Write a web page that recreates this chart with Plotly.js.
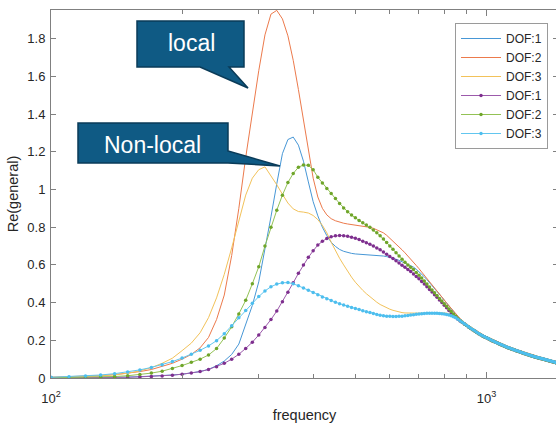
<!DOCTYPE html>
<html>
<head>
<meta charset="utf-8">
<script src="https://cdn.plot.ly/plotly-3.0.1.min.js"></script>
<style>html,body{margin:0;padding:0;overflow:hidden;background:#fff}#chart{width:558px;height:427px}</style>
</head>
<body>
<div id="chart"></div>
<script>
// Frequencies (Hz)
const freq = [100,110,120,130,140,150,160,170,180,190,200,210,220,230,240,250,260,270,280,290,300,310,320,330,340,350,360,370,380,390,400,
410,420,430,440,450,460,470,480,490,500,510,520,530,540,550,560,570,580,590,600,
610,620,630,640,650,660,670,680,690,700,710,720,730,740,750,760,770,780,790,800,
810,820,830,840,850,860,870,880,890,900,910,920,930,940,950,960,970,980,990,1000,
1010,1020,1030,1040,1050,1060,1070,1080,1090,1100,1110,1120,1130,1140,1150,1160,1170,1180,1190,1200,
1210,1220,1230,1240,1250,1260,1270,1280,1290,1300,1310,1320,1330,1340,1350,1360,1370,1380,1390,1400,1410,1420,1430,1440,1450];

// local model (lines)
const localDof1 = [.001,.001,.002,.003,.004,.005,.007,.009,.012,.016,.020,.026,.034,
.046,.065,.090,.125,.180,.280,.385,.510,.680,.855,1.030,1.190,1.265,1.278,1.235,1.150,1.040,.935,
.860,.800,.755,.720,.698,.682,.672,.665,.661,.658,.657,.656,.655,.654,.653,.652,.650,.647,.644,.640,
.635,.630,.624,.617,.612,.605,.597,.588,.577,.565,.551,.537,.522,.507,.492,.477,.461,.445,.429,.413,
.397,.381,.366,.351,.337,.323,.311,.300,.291,.283,.275,.267,.260,.253,.246,.239,.233,.227,.222,.217,
.212,.207,.202,.198,.193,.189,.185,.181,.177,.173,.169,.165,.162,.158,.155,.152,.149,.146,.143,.140,
.137,.134,.131,.129,.126,.124,.121,.119,.116,.114,.112,.110,.108,.106,.104,.102,.100,.098,.096,.094,.092,.090,.088,.086,.084];
const localDof2 = [.004,.006,.009,.013,.018,.025,.034,.045,.060,.078,.100,.125,.160,
.215,.310,.440,.650,.900,1.170,1.410,1.630,1.820,1.930,1.950,1.905,1.815,1.685,1.530,1.370,1.215,1.060,
.960,.900,.865,.845,.834,.826,.821,.817,.814,.811,.809,.806,.803,.799,.794,.787,.779,.770,.757,.742,
.727,.711,.695,.680,.664,.648,.632,.615,.597,.580,.563,.546,.529,.512,.495,.478,.462,.446,.430,.414,
.398,.383,.368,.354,.340,.327,.315,.304,.294,.286,.278,.270,.263,.256,.249,.242,.236,.230,.225,.220,
.215,.210,.205,.201,.196,.192,.188,.184,.180,.176,.172,.168,.165,.161,.158,.155,.152,.149,.146,.143,
.140,.137,.134,.132,.129,.127,.124,.122,.119,.117,.115,.113,.111,.109,.107,.105,.103,.101,.099,.097,.095,.093,.091,.089,.087];
const localDof3 = [.003,.005,.008,.012,.017,.025,.038,.055,.078,.105,.145,.185,.240,
.320,.425,.550,.690,.830,.970,1.060,1.105,1.120,1.075,1.025,.975,.928,.897,.883,.880,.875,.862,
.840,.810,.770,.720,.675,.635,.600,.565,.535,.508,.485,.465,.447,.430,.415,.402,.390,.380,.372,.365,
.359,.354,.350,.347,.345,.344,.343,.343,.343,.344,.344,.345,.345,.346,.346,.346,.346,.346,.346,.345,
.344,.341,.337,.332,.326,.318,.310,.302,.294,.286,.278,.270,.263,.256,.249,.242,.236,.230,.225,.220,
.215,.210,.205,.201,.196,.192,.188,.184,.180,.176,.172,.168,.165,.161,.158,.155,.152,.149,.146,.143,
.140,.137,.134,.132,.129,.127,.124,.122,.119,.117,.115,.113,.111,.109,.107,.105,.103,.101,.099,.097,.095,.093,.091,.089,.087];

// non-local model (lines + markers)
const nonlocalDof1 = [.001,.001,.002,.002,.003,.004,.006,.008,.011,.015,.020,.026,.034,
.045,.060,.078,.100,.126,.157,.190,.228,.268,.310,.355,.405,.455,.505,.555,.600,.640,.675,
.705,.725,.740,.749,.754,.756,.755,.752,.747,.741,.734,.726,.718,.709,.700,.690,.680,.668,.656,.645,
.634,.622,.610,.598,.587,.576,.565,.552,.539,.526,.512,.498,.484,.470,.456,.442,.428,.414,.400,.386,
.372,.358,.345,.333,.322,.312,.303,.295,.287,.279,.271,.263,.256,.249,.242,.235,.229,.223,.218,.213,
.208,.203,.198,.194,.189,.185,.181,.177,.173,.169,.165,.161,.158,.154,.151,.148,.145,.142,.139,.136,
.133,.130,.127,.125,.122,.120,.117,.115,.112,.110,.108,.106,.104,.102,.100,.098,.096,.094,.092,.090,.088,.086,.084,.082,.080];
const nonlocalDof2 = [.001,.002,.003,.005,.008,.012,.018,.026,.036,.050,.066,.083,.100,
.122,.156,.212,.272,.340,.412,.500,.590,.700,.800,.890,.970,1.037,1.085,1.118,1.130,1.128,1.105,
1.065,1.035,1.005,.978,.952,.926,.902,.882,.864,.850,.836,.823,.811,.799,.785,.770,.754,.737,.719,.700,
.683,.665,.647,.630,.614,.600,.588,.575,.560,.545,.530,.515,.499,.483,.467,.452,.437,.422,.408,.394,
.380,.366,.353,.340,.328,.316,.305,.296,.287,.279,.271,.263,.256,.249,.242,.235,.229,.223,.218,.213,
.208,.203,.198,.194,.189,.185,.181,.177,.173,.169,.165,.161,.158,.154,.151,.148,.145,.142,.139,.136,
.133,.130,.127,.125,.122,.120,.117,.115,.112,.110,.108,.106,.104,.102,.100,.098,.096,.094,.092,.090,.088,.086,.084,.082,.080];
const nonlocalDof3 = [.004,.007,.011,.016,.023,.032,.043,.056,.070,.087,.106,.126,.147,
.170,.198,.235,.277,.320,.358,.396,.432,.462,.484,.498,.505,.506,.500,.489,.477,.465,.453,
.441,.430,.420,.411,.402,.394,.387,.380,.374,.368,.363,.357,.352,.347,.342,.337,.333,.330,.328,.327,
.326,.326,.327,.328,.330,.332,.334,.336,.338,.340,.341,.342,.343,.343,.343,.343,.343,.342,.341,.339,
.337,.334,.330,.325,.319,.312,.304,.296,.288,.280,.272,.264,.257,.250,.243,.236,.230,.224,.219,.214,
.209,.204,.199,.195,.190,.186,.182,.178,.174,.170,.166,.162,.159,.155,.152,.149,.146,.143,.140,.137,
.134,.131,.128,.126,.123,.121,.118,.116,.113,.111,.109,.107,.105,.103,.101,.099,.097,.095,.093,.091,.089,.087,.085,.083,.081];

const seriesNames = ['DOF:1','DOF:2','DOF:3','DOF:1','DOF:2','DOF:3'];
const lineColors = ['#4797d6','#ec7a4c','#f2c25a','#9c5aab','#93c255','#62c6ef'];
const markerColors = [null, null, null, '#7E2F8E', '#6fa52a', '#4DBEEE'];
const xTickVals = [100, 1000];
const xTickText = ['10<sup>2</sup>', '10<sup>3</sup>'];
const xMinorVals = [200,300,400,500,600,700,800,900];
const yTickVals = [0,0.2,0.4,0.6,0.8,1,1.2,1.4,1.6,1.8];
const calloutTexts = ['local', 'Non-local'];

const allY = [localDof1, localDof2, localDof3, nonlocalDof1, nonlocalDof2, nonlocalDof3];
const traces = allY.map((y, i) => {
  const tr = {
    x: freq, y: y, name: seriesNames[i], type: 'scatter',
    mode: i >= 3 ? 'lines+markers' : 'lines',
    line: {color: lineColors[i], width: 1}
  };
  if (i >= 3) tr.marker = {color: markerColors[i], size: 3.5, symbol: 'circle'};
  return tr;
});

// geometry helpers for decorations (pixel -> paper)
const W = 558, H = 427, L = 51, T = 10, B = 49, R = 0;
const PW = W - L - R, PH = H - T - B;
const fx = px => (px - L) / PW;
const fy = py => (H - B - py) / PH;
const poly = pts => pts.map((p, k) => (k ? 'L' : 'M') + fx(p[0]).toFixed(5) + ',' + fy(p[1]).toFixed(5)).join(' ') + ' Z';

const localBox = [[137,21],[244,21],[244,67],[229,67],[248,88],[200,67],[137,67]];
const nonlocalBox = [[78,123],[228,123],[228,151],[280,166],[228,163],[78,163]];

const axisCol = '#808080';
const font = 'Arial, "Liberation Sans", sans-serif';
const layout = {
  width: W, height: H,
  margin: {l: L, r: R, t: T, b: B, pad: 0},
  paper_bgcolor: '#fff', plot_bgcolor: '#fff',
  font: {family: font, color: '#262626', size: 13},
  showlegend: true,
  legend: {
    x: fx(455), y: fy(23), xanchor: 'left', yanchor: 'top',
    bgcolor: '#fff', bordercolor: '#9a9a9a', borderwidth: 1,
    font: {family: font, size: 12, color: '#262626'},
    itemwidth: 40, tracegroupgap: 0
  },
  xaxis: {
    type: 'log', range: [2, Math.log10(1460)],
    tickmode: 'array', tickvals: xTickVals, ticktext: xTickText,
    ticks: 'inside', ticklen: 6, tickcolor: axisCol, tickwidth: 1,
    minor: {tickmode: 'array', tickvals: xMinorVals, ticks: 'inside', ticklen: 4, tickcolor: axisCol, showgrid: false},
    showline: true, linecolor: axisCol, linewidth: 1, mirror: 'ticks',
    showgrid: false, zeroline: false,
    ticklabelstandoff: 8,
    tickfont: {size: 13, color: '#262626'},
    title: {text: 'frequency', font: {size: 14.5, color: '#262626'}, standoff: 5}
  },
  yaxis: {
    range: [0, 1.952],
    tickmode: 'array', tickvals: yTickVals,
    ticks: 'inside', ticklen: 5, tickcolor: axisCol, tickwidth: 1,
    showline: true, linecolor: axisCol, linewidth: 1, mirror: 'ticks',
    showgrid: false, zeroline: false,
    ticklabelstandoff: 2,
    tickfont: {size: 13, color: '#262626'},
    title: {text: 'Re(general)', font: {size: 14.5, color: '#262626'}, standoff: 5}
  },
  shapes: [
    {type: 'path', xref: 'paper', yref: 'paper', path: poly(localBox), fillcolor: '#0f5a84', line: {color: '#0a3b58', width: 1.5}, layer: 'above'},
    {type: 'path', xref: 'paper', yref: 'paper', path: poly(nonlocalBox), fillcolor: '#0f5a84', line: {color: '#0a3b58', width: 1.5}, layer: 'above'}
  ],
  annotations: [
    {xref: 'paper', yref: 'paper', x: fx(191), y: fy(43), text: calloutTexts[0], showarrow: false, xanchor: 'center', yanchor: 'middle', font: {family: font, size: 23, color: '#fff'}},
    {xref: 'paper', yref: 'paper', x: fx(152.5), y: fy(145), text: calloutTexts[1], showarrow: false, xanchor: 'center', yanchor: 'middle', font: {family: font, size: 23, color: '#fff'}}
  ]
};

Plotly.newPlot('chart', traces, layout, {displayModeBar: false, staticPlot: true});
</script>
</body>
</html>
